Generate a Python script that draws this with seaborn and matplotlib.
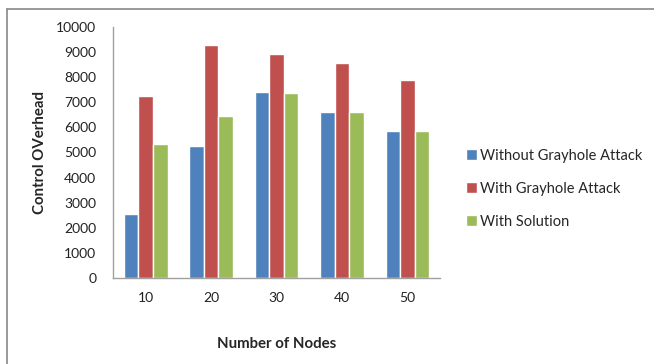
import matplotlib
matplotlib.use("Agg")
import matplotlib.pyplot as plt
import seaborn as sns
import pandas as pd
from matplotlib.lines import Line2D

nodes = ["10", "20", "30", "40", "50"]
without_attack = [2550, 5270, 7400, 6600, 5850]
with_attack = [7250, 9280, 8930, 8580, 7880]
with_solution = [5330, 6450, 7370, 6600, 5870]
series_names = ["Without Grayhole Attack", "With Grayhole Attack", "With Solution"]
colors = ["#4F81BD", "#C0504D", "#9BBB59"]

rows = []
for name, vals in zip(series_names, [without_attack, with_attack, with_solution]):
    for n, v in zip(nodes, vals):
        rows.append({"Nodes": n, "Value": v, "Series": name})
df = pd.DataFrame(rows)

sns.set_theme(style="white")
plt.rcParams["font.family"] = ["Lato", "DejaVu Sans"]

fig = plt.figure(figsize=(6.54, 3.64), dpi=100)
ax = fig.add_axes([0.1728, 0.2363, 0.5002, 0.6895])
sns.barplot(data=df, x="Nodes", y="Value", hue="Series", order=nodes,
            hue_order=series_names, palette=colors, width=0.67,
            saturation=1, ax=ax, legend=True)
ax.set_xlim(-0.5, 4.5)
ax.set_ylim(0, 10000)
ax.set_yticks(range(0, 10001, 1000))
ax.tick_params(axis="both", labelsize=10, colors="#222222", length=0, pad=6)
ax.tick_params(axis="y", length=4, color="#A0A0A0", direction="out", pad=8)
ax.tick_params(axis="x", pad=10)
for s in ["top", "right"]:
    ax.spines[s].set_visible(False)
for s in ["left", "bottom"]:
    ax.spines[s].set_color("#A0A0A0")
    ax.spines[s].set_linewidth(1.0)
ax.set_xlabel("Number of Nodes", fontsize=10.8, fontweight="bold", labelpad=24)
ax.set_ylabel("Control OVerhead", fontsize=10.8, fontweight="bold")
ax.yaxis.set_label_coords(-0.202, 0.5)

handles, labels = ax.get_legend_handles_labels()
ax.legend(handles, labels, loc="center left", bbox_to_anchor=(1.04, 0.356),
          frameon=False, fontsize=10.5, handlelength=0.7, handleheight=0.7,
          handletextpad=0.25, labelspacing=1.3)

# figure border lines (top and left)
fig.add_artist(Line2D([7/654, 1.0], [1 - 9/364, 1 - 9/364], transform=fig.transFigure,
                      color="#888888", linewidth=1.2))
fig.add_artist(Line2D([7/654, 7/654], [0, 1 - 9/364], transform=fig.transFigure,
                      color="#888888", linewidth=1.2))

fig.savefig("out.png", dpi=100, facecolor="white")
